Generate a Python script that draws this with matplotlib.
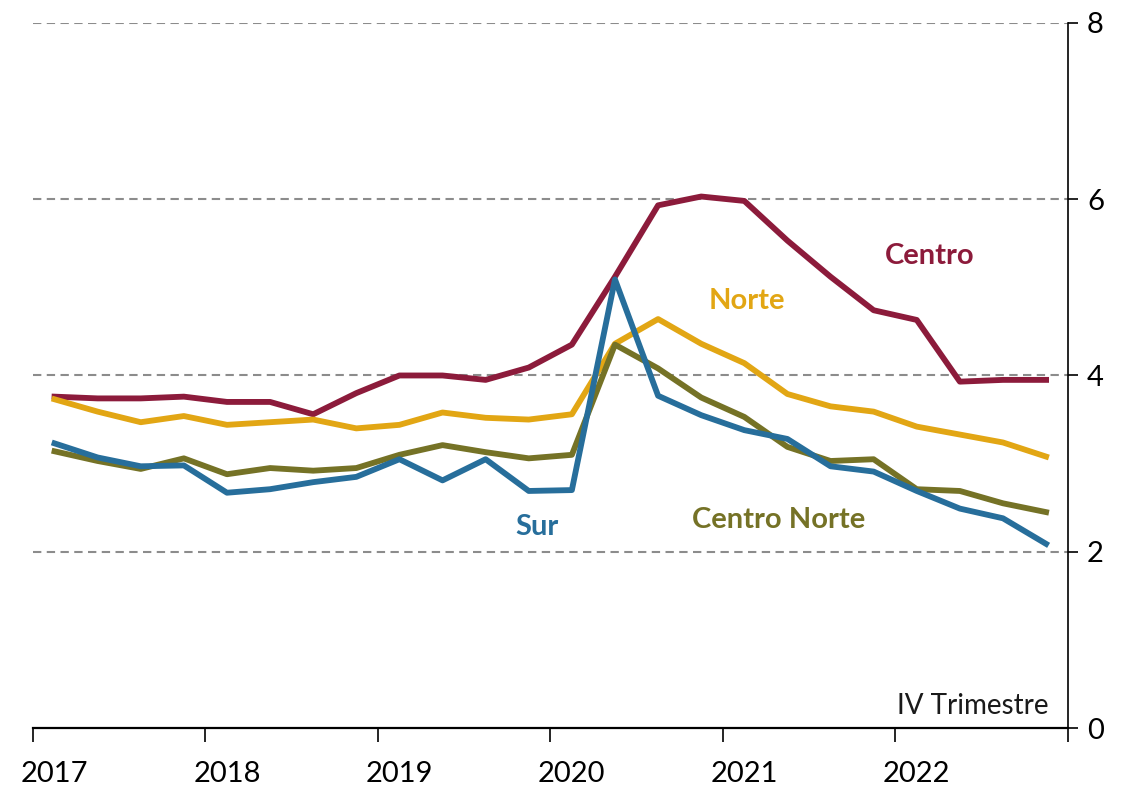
import matplotlib.pyplot as plt
import numpy as np

# trimestres 2017 I - 2022 IV
years = ["2017", "2018", "2019", "2020", "2021", "2022"]

centro = [3.76, 3.74, 3.74, 3.76, 3.70, 3.70, 3.56, 3.80, 4.00, 4.00, 3.95, 4.09,
          4.35, 5.12, 5.93, 6.03, 5.98, 5.53, 5.12, 4.74, 4.63, 3.93, 3.95, 3.95]
norte = [3.73, 3.59, 3.47, 3.54, 3.44, 3.47, 3.50, 3.40, 3.44, 3.58, 3.52, 3.50,
         3.56, 4.36, 4.64, 4.36, 4.14, 3.79, 3.65, 3.59, 3.42, 3.33, 3.24, 3.08]
centro_norte = [3.14, 3.03, 2.94, 3.06, 2.88, 2.95, 2.92, 2.95, 3.10, 3.21, 3.13, 3.06,
                3.10, 4.35, 4.08, 3.75, 3.53, 3.19, 3.03, 3.05, 2.71, 2.69, 2.55, 2.45]
sur = [3.23, 3.07, 2.97, 2.98, 2.67, 2.71, 2.79, 2.85, 3.05, 2.81, 3.05, 2.69,
       2.70, 5.09, 3.77, 3.55, 3.38, 3.28, 2.97, 2.91, 2.69, 2.49, 2.38, 2.09]

plt.rcParams['font.family'] = ['Lato', 'DejaVu Sans']

fig = plt.figure(figsize=(11.37, 7.88), dpi=100)
ax = fig.add_axes([0.029, 0.076, 0.91, 0.895])

x = np.arange(len(centro))
lw = 4.2
ax.plot(x, centro, color='#8C1B3B', lw=lw, zorder=3)
ax.plot(x, norte, color='#E2A614', lw=lw, zorder=3)
ax.plot(x, centro_norte, color='#757226', lw=lw, zorder=3)
ax.plot(x, sur, color='#276E9B', lw=lw, zorder=3)

ax.set_xlim(-0.5, len(x) - 0.5)
ax.set_ylim(0, 8)

for v in [2, 4, 6, 8]:
    ax.axhline(v, color='#8c8c8c', lw=1.5, ls=(0, (4, 2.6)), zorder=1)

# eje y a la derecha
ax.yaxis.tick_right()
ax.set_yticks([0, 2, 4, 6, 8])
ax.tick_params(axis='y', direction='out', length=7, width=1.2, labelsize=21, pad=7)
ax.spines['left'].set_visible(False)
ax.spines['top'].set_visible(False)
ax.spines['right'].set_linewidth(1.2)
ax.spines['bottom'].set_linewidth(1.6)

# eje x: marcas entre años, etiqueta en el primer trimestre
ax.set_xticks(np.arange(-0.5, len(x), 4))
ax.set_xticklabels([])
ax.set_xticks(np.arange(0, len(x), 4), minor=True)
ax.set_xticklabels(years, minor=True)
ax.tick_params(axis='x', which='major', direction='out', length=10, width=1.2)
ax.tick_params(axis='x', which='minor', length=0, labelsize=21, pad=24)

bold = dict(fontsize=21, fontweight='bold', ha='center', va='center')
ax.text(20.3, 5.36, "Centro", color='#8C1B3B', **bold)
ax.text(16.05, 4.85, "Norte", color='#E2A614', **bold)
ax.text(11.2, 2.28, "Sur", color='#276E9B', **bold)
ax.text(16.8, 2.36, "Centro Norte", color='#757226', **bold)

ax.text(23.05, 0.1, "IV Trimestre", fontsize=20, ha='right', va='bottom', color='#1a1a1a')

fig.savefig("out.png", dpi=100)
